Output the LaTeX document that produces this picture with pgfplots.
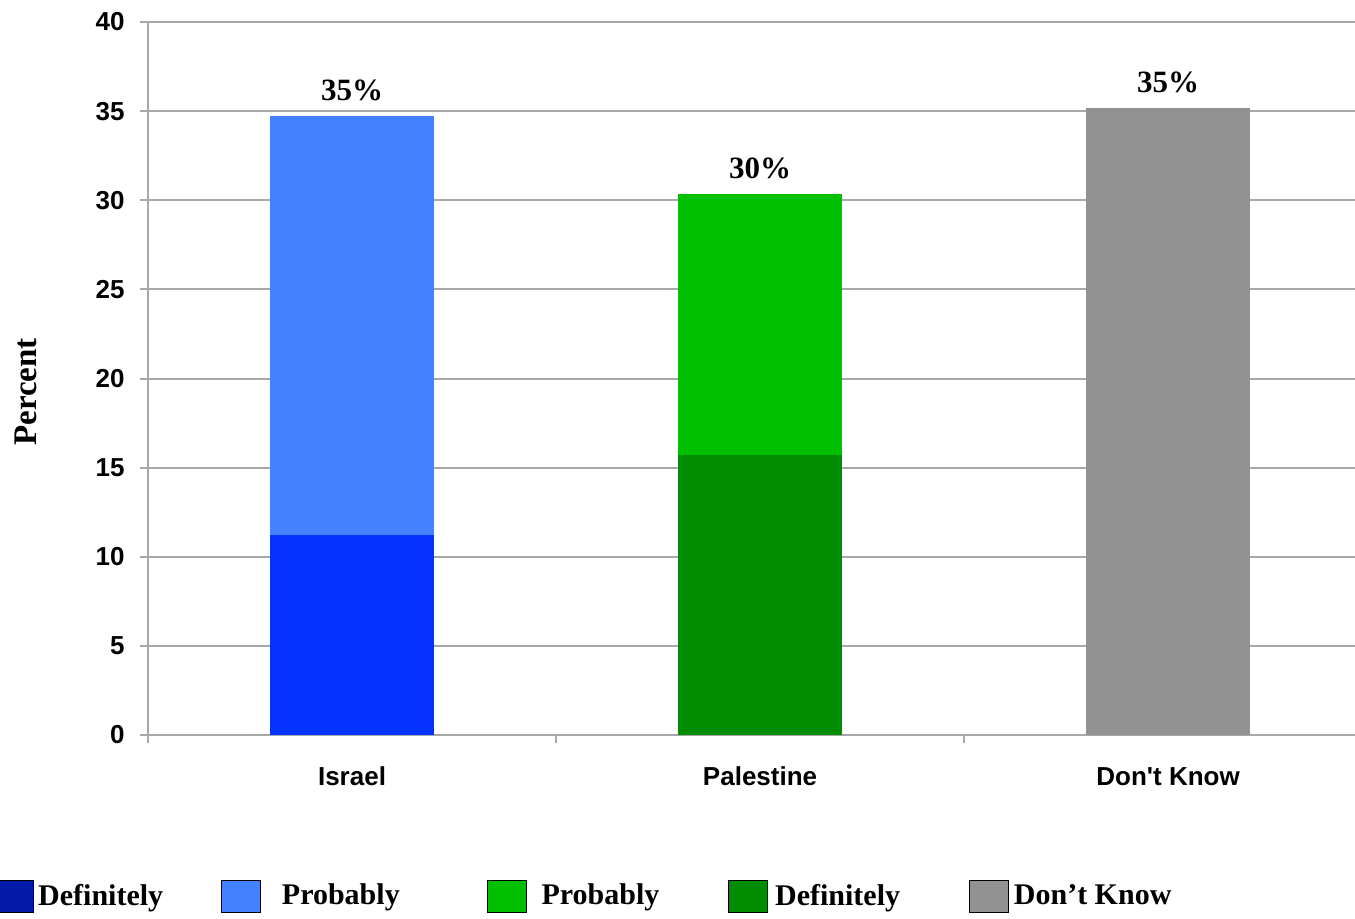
\documentclass[border=0pt]{standalone}
\usepackage{pgfplots}
\pgfplotsset{compat=1.18}
\usepackage{fontspec}
\setmainfont{Liberation Serif}
\newfontfamily\arial{Liberation Sans}
\definecolor{defblue}{HTML}{0433FF}
\definecolor{probblue}{HTML}{4282FF}
\definecolor{legblue}{HTML}{031BA8}
\definecolor{probgreen}{HTML}{00C000}
\definecolor{defgreen}{HTML}{008C00}
\definecolor{dkgray}{HTML}{929292}
\definecolor{gridgray}{HTML}{A8A8A8}
\begin{document}
\begin{tikzpicture}
\path[use as bounding box] (0,0) rectangle (677.5pt,459pt);
\begin{axis}[
  at={(74pt,91.5pt)}, anchor=south west,
  scale only axis, width=603.5pt, height=356.5pt,
  ybar stacked, bar width=82pt,
  xmin=-0.5, xmax=2.458, ymin=0, ymax=40,
  ytick={0,5,...,40},
  xtick={-0.5,0.5,1.5}, xticklabels={},
  extra x ticks={0,1,2},
  extra x tick labels={Israel,Palestine,Don't Know},
  extra x tick style={major tick length=0pt, grid=none},
  axis x line*=bottom, axis y line*=left,
  axis line style={draw=gridgray, line width=1pt, -},
  tick style={draw=gridgray, line width=1pt},
  major tick length=4pt, tick align=outside,
  ymajorgrids, grid style={draw=gridgray, line width=1pt},
  /pgf/number format/assume math mode=true,
  ticklabel style={font=\arial\bfseries\fontsize{13}{15}\selectfont, inner sep=0pt},
  yticklabel style={anchor=east, xshift=-7.5pt},
  xticklabel style={anchor=base, yshift=-25pt},
  ylabel={Percent},
  ylabel style={at={(axis description cs:-0.101,0.481)}, anchor=center, font=\bfseries\fontsize{16.5}{19}\selectfont},
  legend style={at={(axis description cs:-0.1276,-0.2258)}, anchor=west, draw=none, fill=none, inner sep=0pt,
    font=\bfseries\fontsize{15}{18}\selectfont,
    /tikz/every even column/.append style={column sep=27pt}},
  legend columns=5,
  legend image code/.code={\fill[#1] (0pt,-8pt) rectangle (19.5pt,8pt);},
]
\addplot[fill=defblue, draw=none, forget plot] coordinates {(0,11.2) (1,0) (2,0)};
\addplot[fill=probblue, draw=none, forget plot] coordinates {(0,23.5) (1,0) (2,0)};
\addplot[fill=defgreen, draw=none, forget plot] coordinates {(0,0) (1,15.7) (2,0)};
\addplot[fill=probgreen, draw=none, forget plot] coordinates {(0,0) (1,14.65) (2,0)};
\addplot[fill=dkgray, draw=none, forget plot] coordinates {(0,0) (1,0) (2,35.2)};
\addlegendimage{fill=legblue}\addlegendentry{Definitely}
\addlegendimage{fill=probblue}\addlegendentry{\hspace{8.5pt}Probably\rule{14.5pt}{0pt}}
\addlegendimage{fill=probgreen}\addlegendentry{\hspace{5.5pt}Probably\rule{5.5pt}{0pt}}
\addlegendimage{fill=defgreen}\addlegendentry{\hspace{1.5pt}Definitely\rule{5.5pt}{0pt}}
\addlegendimage{fill=dkgray}\addlegendentry{\hspace{0.5pt}Don’t Know}
\end{axis}
\begin{axis}[
  at={(74pt,91.5pt)}, anchor=south west,
  scale only axis, width=603.5pt, height=356.5pt,
  xmin=-0.5, xmax=2.458, ymin=0, ymax=40,
  hide axis, ybar, bar width=82pt, bar shift=0pt,
  nodes near coords, point meta=explicit symbolic,
  every node near coord/.append style={anchor=base, yshift=7.75pt, inner sep=0pt, font=\bfseries\fontsize{15.5}{18}\selectfont, black},
]
\addplot[draw=none, fill=none] coordinates {(0,34.7) [35\%] (1,30.35) [30\%] (2,35.2) [35\%]};
\end{axis}
\end{tikzpicture}
\end{document}
